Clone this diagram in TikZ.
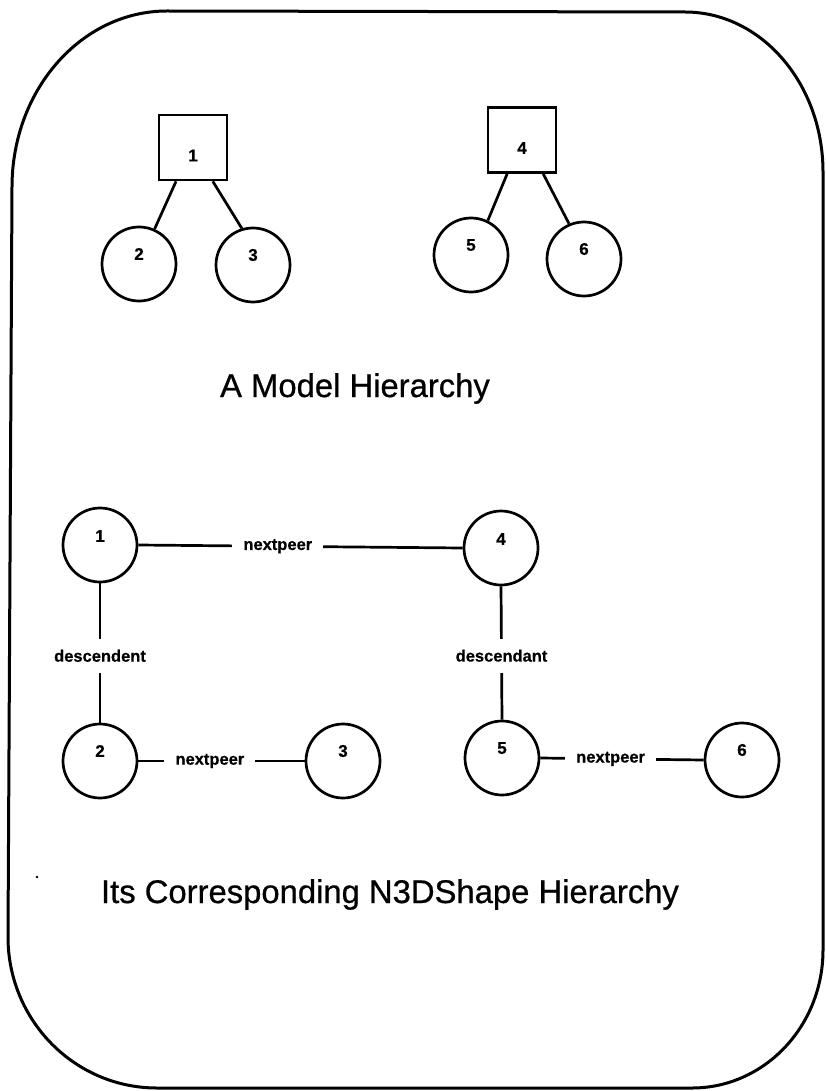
\documentclass[tikz,border=0pt]{standalone}
\usepackage{fontspec}
\setmainfont{Liberation Sans}
\newfontfamily\headfont[FakeBold=0.7]{Liberation Sans}
\newfontfamily\markfont[BoldFeatures={FakeBold=0.5}]{Liberation Sans}
\usetikzlibrary{calc}
\begin{document}
\begin{tikzpicture}[x=1pt,y=-1pt,
  frame/.style={line width=3pt,line join=round},
  link/.style={line width=2.7pt},
  sqnode/.style={draw,line width=2.7pt,minimum width=68pt,minimum height=65pt,inner sep=0pt},
  cnode/.style={draw,circle,line width=2.7pt,minimum size=74pt,inner sep=0pt},
  num/.style={font=\markfont\bfseries\fontsize{17}{17}\selectfont,inner sep=0pt},
  tag/.style={font=\markfont\bfseries\fontsize{16.5}{17}\selectfont,fill=white,inner sep=0pt,outer sep=0pt},
  gap/.style={tag,inner xsep=11pt,inner ysep=3pt},
  vgap/.style={tag,inner xsep=2pt,inner ysep=11pt},
  title/.style={font=\headfont\fontsize{32.8}{36}\selectfont,anchor=base,inner sep=0pt}]
\useasboundingbox (0,0) rectangle (825,1091);

% outer frame with large rounded corners
\draw[frame] (167,11) -- (685,12)
  arc[start angle=-90,end angle=0,x radius=138,y radius=160]
  -- (823,950)
  arc[start angle=0,end angle=90,x radius=131,y radius=138]
  -- (157,1088)
  arc[start angle=90,end angle=180,x radius=149,y radius=151]
  -- (12,187)
  arc[start angle=180,end angle=270,x radius=155,y radius=176];

% model hierarchy
\node[sqnode,label={[num,yshift=-8pt]center:1}] (s1) at (193,147.5) {};
\node[sqnode,label={[num,yshift=-8pt]center:4}] (s4) at (522,140) {};
\node[cnode,label={[num,yshift=10pt]center:2}] (m2) at (139,264) {};
\node[cnode,label={[num,yshift=10pt]center:3}] (m3) at (253,265) {};
\node[cnode,label={[num,yshift=10pt]center:5}] (m5) at (471,255) {};
\node[cnode,label={[num,yshift=10pt]center:6}] (m6) at (584,259) {};

\draw[link] ($(s1.south west)!0.26!(s1.south east)$) -- (m2.66);
\draw[link] ($(s1.south west)!0.78!(s1.south east)$) -- (m3.107);
\draw[link] ($(s4.south west)!0.29!(s4.south east)$) -- (m5.64);
\draw[link] ($(s4.south west)!0.80!(s4.south east)$) -- (m6.113);

\node[title] (t1) at (355,397) {A Model Hierarchy};

% shape hierarchy
\node[cnode,label={[num,yshift=9pt]center:1}] (h1) at (100,545) {};
\node[cnode,label={[num,yshift=9pt]center:4}] (h4) at (501,548) {};
\node[cnode,label={[num,yshift=10pt]center:2}] (h2) at (100,761) {};
\node[cnode,label={[num,yshift=10pt]center:3}] (h3) at (343,761) {};
\node[cnode,label={[num,yshift=10pt]center:5}] (h5) at (502,758) {};
\node[cnode,label={[num,yshift=10pt]center:6}] (h6) at (742,760) {};

\draw[link] (h1.east) -- node[gap,pos=0.43] (p14) {nextpeer} (h4.west);
\draw[link] (h2.east) -- node[gap,pos=0.43] (p23) {nextpeer} (h3.west);
\draw[link] (h5.east) -- node[gap,pos=0.43] (p56) {nextpeer} (h6.west);
\draw[link] (h1.south) -- node[vgap,pos=0.52] (d12) {descendent} (h2.north);
\draw[link] (h4.south) -- node[vgap,pos=0.52] (d45) {descendant} (h5.north);

\node[title] (t2) at (390,903) {Its Corresponding N3DShape Hierarchy};

% small speck left of the lower title
\fill (37,877) circle[radius=1.3];
\end{tikzpicture}
\end{document}
